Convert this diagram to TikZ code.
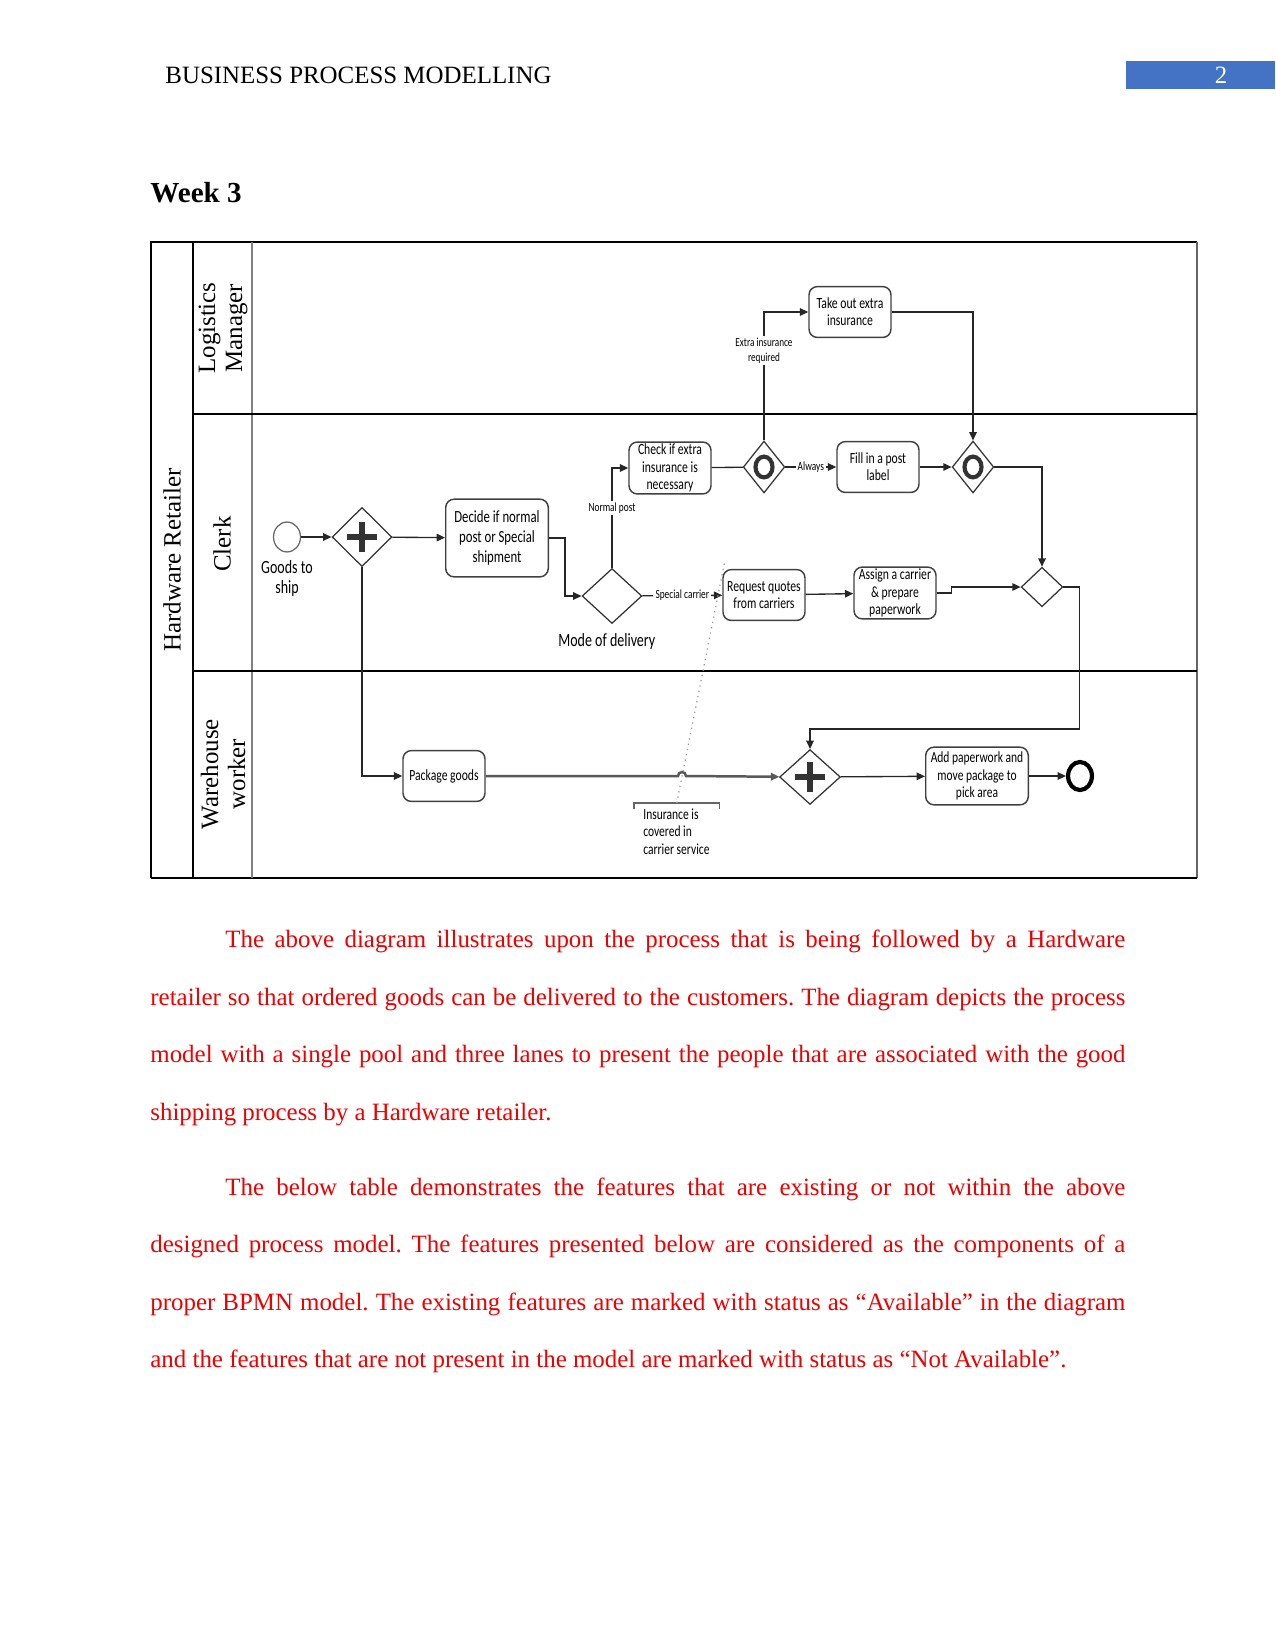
\documentclass[tikz,border=0pt]{standalone}
\usepackage{fontspec}
\setmainfont{Liberation Serif}
\newfontfamily\bpmnfont[FakeStretch=0.75]{Carlito}
\usetikzlibrary{shapes.geometric,arrows.meta,positioning}
\definecolor{headblue}{RGB}{68,114,196}
\definecolor{bodyred}{RGB}{236,0,0}
\frenchspacing

\begin{document}
\begin{tikzpicture}[x=0.16933mm,y=-0.16933mm,>={Triangle[length=4pt,width=3.6pt]}]
  \tikzstyle{task}=[draw=black!75, line width=0.7pt, rounded corners=4pt, minimum width=39.5pt,
    minimum height=24.5pt, inner sep=1pt, align=center, font=\bpmnfont\fontsize{7.5}{8.3}\selectfont]
  \tikzstyle{gateway}=[draw=black!80, diamond, line width=0.6pt, inner sep=0pt]
  \tikzstyle{parallel}=[gateway, path picture={
      \draw[line width=3pt] ([xshift=-7pt]path picture bounding box.center) -- ([xshift=7pt]path picture bounding box.center);
      \draw[line width=3pt] ([yshift=-7pt]path picture bounding box.center) -- ([yshift=7pt]path picture bounding box.center);}]
  \tikzstyle{inclusive}=[gateway, path picture={
      \draw[line width=2pt] (path picture bounding box.center) ellipse [x radius=4.1pt, y radius=5pt];}]
  \tikzstyle{flow}=[->, draw=black!85, line width=0.65pt]
  \tikzstyle{cond}=[font=\bpmnfont\fontsize{6}{7}\selectfont, fill=white, inner sep=1pt, align=center]
  \tikzstyle{lane}=[rotate=90, align=center, font=\fontsize{12}{13}\selectfont]
  \tikzstyle{body}=[anchor=base west, inner sep=0pt, text=bodyred, font=\fontsize{12}{14}\selectfont]

  \useasboundingbox (0,0) rectangle (1275,1650);

  % page header
  \node[anchor=base west, inner sep=0pt, font=\fontsize{12}{14}\selectfont] (runhead) at (165,83) {BUSINESS PROCESS MODELLING};
  \fill[headblue] (1126,61) rectangle (1275,89);
  \node[anchor=base, inner sep=0pt, text=white, font=\fontsize{12}{14}\selectfont] (pageno) at (1221,83) {2};
  \node[anchor=base west, inner sep=0pt, font=\bfseries\fontsize{14}{16}\selectfont] (week) at (150,202.5) {Week 3};

  % pool and lanes
  \draw[line width=0.7pt] (151,878) -- (151,242) -- (1197,242);
  \draw[black!60, line width=0.5pt] (1197,242) -- (1197,878);
  \draw[line width=1.4pt] (151,878) -- (1197,878);
  \draw[line width=0.6pt] (193,242) -- (193,878);
  \draw[black!50, line width=0.5pt] (252,242) -- (252,878);
  \draw[line width=1.4pt] (193,414) -- (1197,414);
  \draw[line width=0.9pt] (193,671) -- (1197,671);

  \node[lane] (pool) at (172,560) {Hardware Retailer};
  \node[lane] (logistics) at (223,328) {Logistics\\Manager};
  \node[lane] (clerk) at (222,544) {Clerk};
  \node[lane] (warehouse) at (223,774) {Warehouse\\worker};

  % clerk lane
  \node[draw=black!60, ellipse, line width=0.6pt, minimum width=13pt, minimum height=14.4pt, inner sep=0pt] (start) at (287,537) {};
  \node[below=2.5pt of start, font=\bpmnfont\fontsize{9}{10}\selectfont, align=center, inner sep=1pt] (startlbl) {Goods to\\ship};
  \node[parallel, minimum width=28.8pt, minimum height=28.5pt] (split) at (362,537) {};
  \node[task, minimum width=49.4pt, minimum height=37.4pt, font=\bpmnfont\fontsize{8.2}{9.6}\selectfont] (decide) at (497,538) {Decide if normal\\post or Special\\shipment};
  \node[gateway, minimum width=28.8pt, minimum height=26.5pt] (mode) at (612,596) {};
  \node[below=3.3pt of mode, xshift=-2.5pt, font=\bpmnfont\fontsize{9}{10}\selectfont, inner sep=1pt] (modelbl) {Mode of delivery};
  \node[task] (check) at (670,468) {Check if extra\\insurance is\\necessary};
  \node[inclusive, minimum width=20pt, minimum height=25pt] (orsplit) at (764,467) {};
  \node[task] (fill) at (878,467) {Fill in a post\\label};
  \node[inclusive, minimum width=20pt, minimum height=25pt] (orjoin) at (973,467) {};
  \node[task] (request) at (764,595) {Request quotes\\from carriers};
  \node[task, minimum height=24pt] (assign) at (895,593) {Assign a carrier\\\& prepare\\paperwork};
  \node[gateway, minimum width=20pt, minimum height=19pt] (merge) at (1042,587) {};

  % logistics lane
  \node[task] (insure) at (850,312) {Take out extra\\insurance};

  % warehouse lane
  \node[task] (package) at (444,776) {Package goods};
  \node[parallel, minimum width=29.3pt, minimum height=26.4pt] (join) at (810,777) {};
  \node[task, minimum width=49.4pt, minimum height=27.8pt, font=\bpmnfont\fontsize{7.4}{8.4}\selectfont] (pick) at (977,776) {Add paperwork and\\move package to\\pick area};
  \node[draw=black, ellipse, line width=2pt, minimum width=11.5pt, minimum height=13.5pt, inner sep=0pt] (finish) at (1080,776) {};
  \node[anchor=north west, text width=32.2pt, inner xsep=4.3pt, inner ysep=2.5pt, align=flush left,
    font=\bpmnfont\fontsize{7.4}{8.4}\selectfont] (note) at (634,803) {Insurance is\\covered in\\carrier service};
  \coordinate (assoc) at (725,560);
  \coordinate (hop) at (678,776);

  % flows
  \draw[flow] (start) -- (split);
  \draw[flow] (split) -- (decide);
  \draw[flow] (decide.east) -- ++(16,0) |- (mode);
  \draw[flow] (mode) |- node[cond, pos=0.3] {Normal post} (check);
  \draw[draw=black!85, line width=0.65pt] (check) -- (orsplit);
  \draw[flow] (orsplit) |- node[cond, pos=0.35, font=\bpmnfont\fontsize{5.9}{7}\selectfont] {Extra insurance\\required} (insure);
  \draw[flow] (orsplit) -- node[cond] {Always} (fill);
  \draw[flow] (insure) -| (orjoin);
  \draw[flow] (fill) -- (orjoin);
  \draw[flow] (orjoin) -| (merge);
  \draw[flow] (mode) -- node[cond] {Special carrier} (request);
  \draw[flow] (request) -- (assign);
  \draw[flow] (assign.east) -- ++(15,0) |- (merge);
  \draw[flow] (merge.east) -- ++(16,0) -- ++(0,142) -| (join);
  \draw[flow] (split) |- (package);
  \draw[flow, draw=black!65, line width=1.2pt] (package) -- (hop) arc[start angle=180, end angle=360, radius=4] -- (join);
  \draw[flow] (join) -- (pick);
  \draw[flow] (pick) -- (finish);

  % annotation
  \draw[black!60, line width=0.6pt] ([yshift=-3pt]note.north west) -- (note.north west) -- (note.north east) -- ([yshift=-3pt]note.north east);
  \draw[black!40, dotted, line width=0.6pt] (note.north) -- (assoc);

  % body text
  \node[body] (p1a) at (225,947.5) {\makebox[6in][s]{The above diagram illustrates upon the process that is being followed by a Hardware}};
  \node[body] (p1b) at (150,1005) {\makebox[6.5in][s]{retailer so that ordered goods can be delivered to the customers. The diagram depicts the process}};
  \node[body] (p1c) at (150,1062.5) {\makebox[6.5in][s]{model with a single pool and three lanes to present the people that are associated with the good}};
  \node[body] (p1d) at (150,1120) {shipping process by a Hardware retailer.};
  \node[body] (p2a) at (225,1195) {\makebox[6in][s]{The below table demonstrates the features that are existing or not within the above}};
  \node[body] (p2b) at (150,1252.5) {\makebox[6.5in][s]{designed process model. The features presented below are considered as the components of a}};
  \node[body] (p2c) at (150,1310) {\makebox[6.5in][s]{proper BPMN model. The existing features are marked with status as “Available” in the diagram}};
  \node[body] (p2d) at (150,1367.5) {and the features that are not present in the model are marked with status as “Not Available”.};
\end{tikzpicture}
\end{document}
